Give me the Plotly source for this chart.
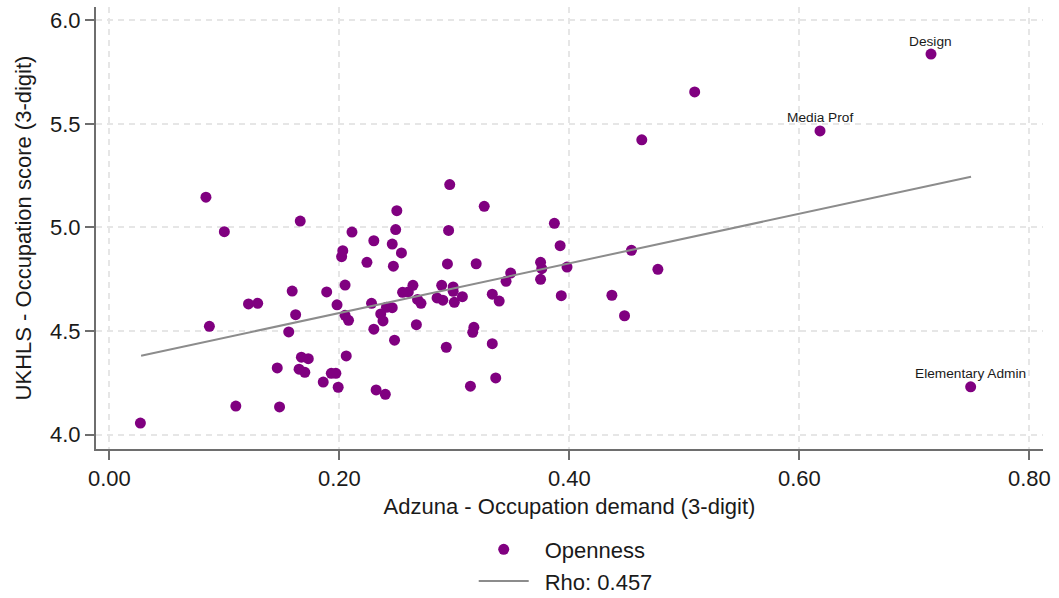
import plotly.graph_objects as go

# Adzuna occupation demand (x) and UKHLS occupation score (y)
demand = [0.027, 0.084, 0.087, 0.100, 0.110, 0.121, 0.129, 0.146, 0.148, 0.156,
          0.159, 0.162, 0.165, 0.166, 0.167, 0.170, 0.173, 0.186, 0.189, 0.193,
          0.197, 0.198, 0.199, 0.202, 0.203, 0.205, 0.205, 0.206, 0.208, 0.211,
          0.224, 0.228, 0.230, 0.230, 0.232, 0.236, 0.238, 0.240, 0.241, 0.246,
          0.246, 0.247, 0.248, 0.249, 0.250, 0.254, 0.255, 0.260, 0.264, 0.267,
          0.268, 0.271, 0.285, 0.289, 0.290, 0.293, 0.294, 0.295, 0.296, 0.299,
          0.299, 0.300, 0.307, 0.314, 0.316, 0.317, 0.319, 0.326, 0.333, 0.333,
          0.336, 0.339, 0.345, 0.349, 0.375, 0.375, 0.376, 0.387, 0.392, 0.393,
          0.398, 0.437, 0.448, 0.454, 0.463, 0.477, 0.509, 0.618, 0.7145, 0.749]
score = [4.056, 5.146, 4.523, 4.980, 4.138, 4.631, 4.634, 4.322, 4.134, 4.496,
         4.693, 4.579, 4.316, 5.031, 4.374, 4.301, 4.367, 4.254, 4.689, 4.296,
         4.296, 4.627, 4.229, 4.859, 4.888, 4.722, 4.576, 4.380, 4.552, 4.978,
         4.832, 4.634, 4.936, 4.509, 4.216, 4.583, 4.549, 4.195, 4.615, 4.613,
         4.920, 4.813, 4.456, 4.990, 5.081, 4.877, 4.687, 4.689, 4.721, 4.531,
         4.653, 4.634, 4.660, 4.721, 4.649, 4.422, 4.824, 4.986, 5.207, 4.713,
         4.692, 4.639, 4.666, 4.234, 4.494, 4.518, 4.825, 5.102, 4.678, 4.439,
         4.274, 4.645, 4.740, 4.780, 4.832, 4.750, 4.801, 5.020, 4.912, 4.671,
         4.809, 4.673, 4.574, 4.890, 5.423, 4.798, 5.654, 5.466, 5.837, 4.231]

label_names = ["Media Prof", "Design", "Elementary Admin"]
label_x = [0.618, 0.7145, 0.749]
label_y = [5.466, 5.837, 4.231]

fit_x = [0.0276, 0.7493]
fit_y = [4.381, 5.245]

x_ticks = [0.0, 0.2, 0.4, 0.6, 0.8]
x_ticklabels = ["0.00", "0.20", "0.40", "0.60", "0.80"]
y_ticks = [4.0, 4.5, 5.0, 5.5, 6.0]
y_ticklabels = ["4.0", "4.5", "5.0", "5.5", "6.0"]

FONT = "Liberation Sans, Arial, sans-serif"
TXT = "#1a1a1a"
PAD = "\u2002"  # small gap between legend symbol and text

fig = go.Figure()
fig.add_trace(go.Scatter(
    x=demand, y=score, mode="markers", name=PAD + "Openness",
    marker=dict(color="#800080", size=11, line=dict(width=0)),
    legendgroup="a",
))
fig.add_trace(go.Scatter(
    x=fit_x, y=fit_y, mode="lines", name=PAD + "Rho: 0.457",
    line=dict(color="#8c8c8c", width=2),
    legendgroup="b",
))

for name, lx, ly in zip(label_names, label_x, label_y):
    fig.add_annotation(
        x=lx, y=ly, text=name, showarrow=False, yshift=13,
        xanchor="center", yanchor="middle",
        font=dict(family=FONT, size=13.7, color=TXT),
    )

axis_common = dict(
    showgrid=True, gridcolor="#e6e6e6", griddash="6px,5px", gridwidth=1.5,
    zeroline=False, showline=True, linecolor="#6e6e6e", linewidth=2,
    ticks="outside", ticklen=9, tickwidth=1.5, tickcolor="#6e6e6e",
    tickfont=dict(family=FONT, size=22, color=TXT),
    title_font=dict(family=FONT, size=22, color=TXT),
)

fig.update_xaxes(
    range=[-0.0116, 0.8119], tickvals=x_ticks, ticktext=x_ticklabels,
    title_text="Adzuna - Occupation demand (3-digit)", title_standoff=8,
    **axis_common,
)
fig.update_yaxes(
    range=[3.931, 6.064], tickvals=y_ticks, ticktext=y_ticklabels,
    title_text="UKHLS - Occupation score (3-digit)", title_standoff=12,
    **axis_common,
)

fig.update_layout(
    width=1059, height=598,
    margin=dict(l=96, r=16, t=7, b=149, autoexpand=False),
    paper_bgcolor="white", plot_bgcolor="white",
    font=dict(family=FONT, size=22, color=TXT),
    showlegend=True,
    legend=dict(
        x=0.055, xanchor="center", y=-0.18, yanchor="top",
        orientation="v", traceorder="grouped", tracegroupgap=0,
        itemwidth=50,
        font=dict(family=FONT, size=22, color=TXT),
        bgcolor="rgba(0,0,0,0)",
    ),
)
# centre the legend box horizontally under the plot
fig.update_layout(legend_x=0.49 + 0.006)

fig.write_html("out.html", config={"displayModeBar": False})
